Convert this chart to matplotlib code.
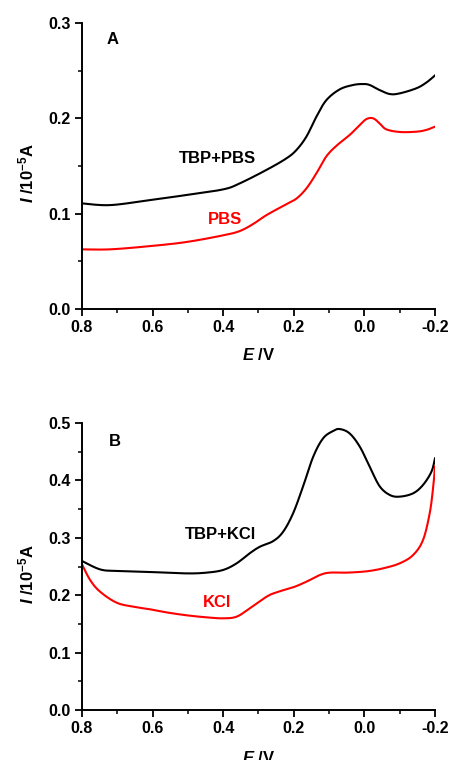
import numpy as np
import matplotlib.pyplot as plt
from matplotlib.ticker import MultipleLocator

plt.rcParams['font.family'] = ['Liberation Sans', 'DejaVu Sans']
plt.rcParams['font.weight'] = 'bold'
plt.rcParams['axes.labelweight'] = 'bold'
plt.rcParams['mathtext.fontset'] = 'custom'
plt.rcParams['mathtext.rm'] = 'Liberation Sans:bold'
plt.rcParams['mathtext.it'] = 'Liberation Sans:italic:bold'
plt.rcParams['mathtext.bf'] = 'Liberation Sans:bold'

# panel A: TBP in PBS vs blank PBS
eA_tbp = [0.8, 0.72, 0.607, 0.504, 0.4, 0.353, 0.277, 0.221, 0.192, 0.164, 0.136, 0.108,
          0.070, 0.032, 0.004, -0.015, -0.043, -0.072, -0.1, -0.147, -0.175, -0.2]
iA_tbp = [0.1108, 0.109, 0.1143, 0.1196, 0.1255, 0.1318, 0.146, 0.158, 0.167, 0.181, 0.2017,
          0.219, 0.2304, 0.235, 0.236, 0.235, 0.2297, 0.2255, 0.2262, 0.2315, 0.2374, 0.245]
eA_pbs = [0.8, 0.72, 0.607, 0.504, 0.4, 0.353, 0.315, 0.277, 0.221, 0.192, 0.164, 0.136,
          0.108, 0.079, 0.042, 0.013, -0.006, -0.025, -0.043, -0.062, -0.1, -0.147, -0.175, -0.2]
iA_pbs = [0.0626, 0.0626, 0.066, 0.0703, 0.0773, 0.0818, 0.0892, 0.0986, 0.110, 0.116, 0.1266,
          0.1423, 0.160, 0.1713, 0.1825, 0.193, 0.1993, 0.200, 0.1948, 0.1885, 0.1857, 0.186,
          0.1878, 0.1913]

# panel B: TBP in KCl vs blank KCl
eB_tbp = [0.8, 0.749, 0.702, 0.607, 0.504, 0.447, 0.4, 0.362, 0.325, 0.296, 0.258, 0.23,
          0.202, 0.174, 0.145, 0.117, 0.089, 0.070, 0.042, 0.013, -0.015, -0.043, -0.072,
          -0.1, -0.138, -0.166, -0.19, -0.2]
iB_tbp = [0.2596, 0.245, 0.2422, 0.2404, 0.238, 0.2393, 0.244, 0.2555, 0.273, 0.2845, 0.2944,
          0.3107, 0.3426, 0.389, 0.4413, 0.4733, 0.486, 0.4895, 0.482, 0.4588, 0.4239, 0.390,
          0.3746, 0.3717, 0.3775, 0.392, 0.4152, 0.4384]
eB_kcl = [0.8, 0.777, 0.749, 0.702, 0.655, 0.607, 0.56, 0.504, 0.447, 0.4, 0.362, 0.325,
          0.277, 0.249, 0.202, 0.164, 0.126, 0.098, 0.051, -0.006, -0.053, -0.1, -0.138,
          -0.166, -0.185, -0.195, -0.2]
iB_kcl = [0.2538, 0.2265, 0.2062, 0.187, 0.180, 0.1754, 0.170, 0.165, 0.1614, 0.1597, 0.1626,
          0.1771, 0.1974, 0.205, 0.2137, 0.2236, 0.2352, 0.2393, 0.2393, 0.2416, 0.2468,
          0.2555, 0.270, 0.296, 0.3426, 0.389, 0.424]

fig = plt.figure(figsize=(4.51, 7.6), dpi=100)
axA = fig.add_axes([0.1818, 0.5934, 0.7827, 0.3763])
axB = fig.add_axes([0.1818, 0.0658, 0.7827, 0.3776])


def smooth(e, i):
    # Catmull-Rom through the read-off points for a smooth trace
    pts = np.column_stack([e, i])
    out = []
    for k in range(len(pts) - 1):
        p0 = pts[max(k - 1, 0)]
        p1 = pts[k]
        p2 = pts[k + 1]
        p3 = pts[min(k + 2, len(pts) - 1)]
        t = np.linspace(0, 1, 20, endpoint=False)[:, None]
        seg = 0.5 * ((2 * p1) + (-p0 + p2) * t + (2 * p0 - 5 * p1 + 4 * p2 - p3) * t ** 2
                     + (-p0 + 3 * p1 - 3 * p2 + p3) * t ** 3)
        out.append(seg)
    out.append(pts[-1:])
    out = np.vstack(out)
    return out[:, 0], out[:, 1]


for ax in (axA, axB):
    ax.spines['top'].set_visible(False)
    ax.spines['right'].set_visible(False)
    ax.spines['left'].set_linewidth(1.4)
    ax.spines['bottom'].set_linewidth(1.4)
    ax.set_xlim(0.8, -0.2)
    ax.xaxis.set_major_locator(MultipleLocator(0.2))
    ax.xaxis.set_minor_locator(MultipleLocator(0.1))
    ax.yaxis.set_major_locator(MultipleLocator(0.1))
    ax.yaxis.set_minor_locator(MultipleLocator(0.05))
    ax.tick_params(which='major', direction='out', length=5, width=1.3, labelsize=11.5, pad=3)
    ax.tick_params(which='minor', direction='out', length=3, width=1.1)
    ax.xaxis.set_major_formatter(plt.FuncFormatter(lambda v, p: f'{v:.1f}'.replace('-0.0', '0.0')))
    ax.yaxis.set_major_formatter(plt.FuncFormatter(lambda v, p: f'{v:.1f}'))
    ax.set_xlabel(r'$\mathit{E}$ /V', fontsize=12, fontweight='bold')
    ax.set_ylabel(r'$\mathit{I}$ /10$^{-5}$A', fontsize=12, fontweight='bold')
    ax.yaxis.set_label_coords(-0.13, 0.475)

axA.xaxis.set_label_coords(0.5, -0.133)
axB.xaxis.set_label_coords(0.5, -0.139)

axA.set_ylim(0, 0.3)
axA.plot(*smooth(eA_tbp, iA_tbp), color='black', lw=1.5)
axA.plot(*smooth(eA_pbs, iA_pbs), color='red', lw=1.5)
axA.text(0.712, 0.283, 'A', fontsize=12, fontweight='bold', ha='center', va='center')
axA.text(0.415, 0.158, 'TBP+PBS', fontsize=12, fontweight='bold', ha='center', va='center')
axA.text(0.395, 0.0944, 'PBS', fontsize=12, fontweight='bold', color='red', ha='center', va='center')

axB.set_ylim(0, 0.5)
axB.plot(*smooth(eB_tbp, iB_tbp), color='black', lw=1.5)
axB.plot(*smooth(eB_kcl, iB_kcl), color='red', lw=1.5)
axB.text(0.707, 0.467, 'B', fontsize=12, fontweight='bold', ha='center', va='center')
axB.text(0.409, 0.3066, 'TBP+KCl', fontsize=12, fontweight='bold', ha='center', va='center')
axB.text(0.417, 0.187, 'KCl', fontsize=12, fontweight='bold', color='red', ha='center', va='center')

fig.savefig('out.png', dpi=100)
